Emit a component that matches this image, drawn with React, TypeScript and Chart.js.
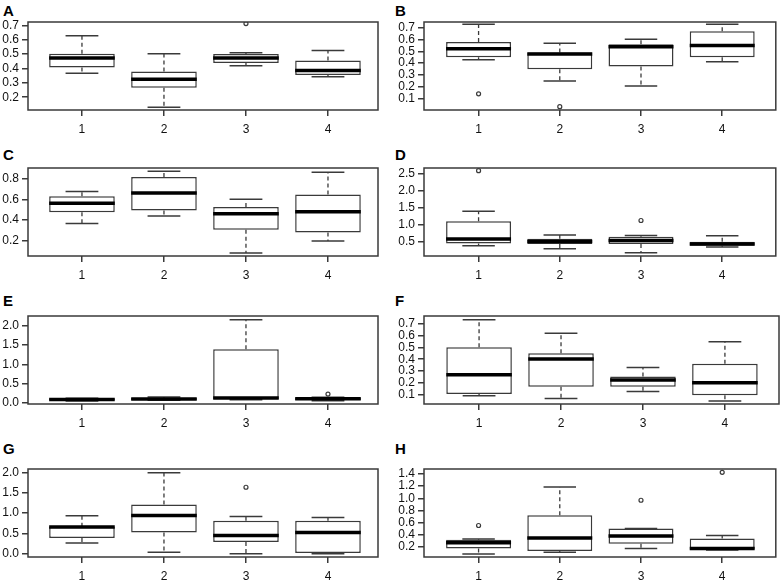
import React, { useEffect, useRef } from 'react';
import { Chart, registerables } from 'chart.js';

Chart.register(...registerables);

// ---------- data ----------
const groups = [1, 2, 3, 4];
const groupLabels = ['1', '2', '3', '4'];

// each group: [lower whisker, Q1, median, Q3, upper whisker]
const boxA = [
  [0.367, 0.407, 0.472, 0.503, 0.627],
  [0.130, 0.266, 0.324, 0.378, 0.503],
  [0.418, 0.437, 0.472, 0.500, 0.510],
  [0.343, 0.355, 0.385, 0.456, 0.524],
];
const outA = [[], [], [0.712], []];
const ticksA = [0.2, 0.3, 0.4, 0.5, 0.6, 0.7];
const rangeA = [0.111, 0.723];

const boxB = [
  [0.429, 0.451, 0.523, 0.580, 0.729],
  [0.249, 0.349, 0.477, 0.491, 0.569],
  [0.206, 0.371, 0.540, 0.560, 0.603],
  [0.411, 0.451, 0.549, 0.671, 0.729],
];
const outB = [[0.14], [0.031], [], []];
const ticksB = [0.1, 0.2, 0.3, 0.4, 0.5, 0.6, 0.7];
const rangeB = [0.003, 0.749];

const boxC = [
  [0.367, 0.476, 0.563, 0.630, 0.675],
  [0.438, 0.492, 0.662, 0.816, 0.871],
  [0.081, 0.306, 0.460, 0.527, 0.601],
  [0.197, 0.280, 0.479, 0.646, 0.861],
];
const outC = [[], [], [], []];
const ticksC = [0.2, 0.4, 0.6, 0.8];
const rangeC = [0.052, 0.903];

const boxD = [
  [0.383, 0.451, 0.578, 1.10, 1.393],
  [0.296, 0.432, 0.510, 0.587, 0.694],
  [0.180, 0.432, 0.539, 0.646, 0.684],
  [0.345, 0.383, 0.432, 0.500, 0.675],
];
const outD = [[2.578], [], [1.121], []];
const ticksD = [0.5, 1.0, 1.5, 2.0, 2.5];
const rangeD = [0.083, 2.655];

const boxE = [
  [0.043, 0.060, 0.085, 0.110, 0.113],
  [0.060, 0.070, 0.095, 0.120, 0.147],
  [0.078, 0.095, 0.121, 1.394, 2.165],
  [0.050, 0.070, 0.100, 0.125, 0.139],
];
const outE = [[], [], [], [0.225]];
const ticksE = [0.0, 0.5, 1.0, 1.5, 2.0];
const rangeE = [-0.035, 2.26];

const boxF = [
  [0.089, 0.103, 0.267, 0.502, 0.737],
  [0.066, 0.165, 0.403, 0.451, 0.621],
  [0.125, 0.165, 0.222, 0.253, 0.329],
  [0.043, 0.092, 0.199, 0.361, 0.550],
];
const outF = [[], [], [], []];
const ticksF = [0.1, 0.2, 0.3, 0.4, 0.5, 0.6, 0.7];
const rangeF = [0.018, 0.769];

const boxG = [
  [0.262, 0.385, 0.656, 0.664, 0.934],
  [0.033, 0.525, 0.943, 1.213, 2.0],
  [0.0, 0.287, 0.451, 0.811, 0.918],
  [0.0, 0.016, 0.525, 0.811, 0.893],
];
const outG = [[], [], [1.639], []];
const ticksG = [0.0, 0.5, 1.0, 1.5, 2.0];
const rangeG = [-0.082, 2.09];

const boxH = [
  [0.086, 0.178, 0.271, 0.320, 0.331],
  [0.113, 0.135, 0.347, 0.723, 1.186],
  [0.178, 0.255, 0.380, 0.505, 0.505],
  [0.151, 0.162, 0.178, 0.342, 0.391],
];
const outH = [[0.554], [], [0.968], [1.426]];
const ticksH = [0.2, 0.4, 0.6, 0.8, 1.0, 1.2, 1.4];
const rangeH = [0.037, 1.481];

// ---------- layout / style ----------
const FONT = "'Liberation Sans', Arial, Helvetica, sans-serif";
const PAD_TOP = 12;
const PLOT_H = 88;
const XAXIS_H = 30;
const BOX_HALF = 0.4;
const STAPLE_HALF = 0.2;
const LINE = '#3a3a3a';
const TEXT = '#111';

const COLS = [
  { left: 0, width: 390, axisW: 28, padRight: 12, xMin: 0.342, xMax: 4.61, letterX: 3 },
  { left: 390, width: 391, axisW: 34, padRight: 2, xMin: 0.328, xMax: 4.66, letterX: 395 },
];
const ROWS = [
  { plotTop: 22, letterTop: 3 },
  { plotTop: 168, letterTop: 147 },
  { plotTop: 316, letterTop: 293 },
  { plotTop: 469, letterTop: 441 },
];

type PanelDef = {
  letter: string;
  box: number[][];
  out: number[][];
  ticks: number[];
  range: number[];
  col: number;
  row: number;
};

const panels: PanelDef[] = [
  { letter: 'A', box: boxA, out: outA, ticks: ticksA, range: rangeA, col: 0, row: 0 },
  { letter: 'B', box: boxB, out: outB, ticks: ticksB, range: rangeB, col: 1, row: 0 },
  { letter: 'C', box: boxC, out: outC, ticks: ticksC, range: rangeC, col: 0, row: 1 },
  { letter: 'D', box: boxD, out: outD, ticks: ticksD, range: rangeD, col: 1, row: 1 },
  { letter: 'E', box: boxE, out: outE, ticks: ticksE, range: rangeE, col: 0, row: 2 },
  { letter: 'F', box: boxF, out: outF, ticks: ticksF, range: rangeF, col: 1, row: 2 },
  { letter: 'G', box: boxG, out: outG, ticks: ticksG, range: rangeG, col: 0, row: 3 },
  { letter: 'H', box: boxH, out: outH, ticks: ticksH, range: rangeH, col: 1, row: 3 },
];

const framePlugin = {
  id: 'frame',
  afterDatasetsDraw(chart: any) {
    const { ctx, chartArea } = chart;
    ctx.save();
    ctx.strokeStyle = LINE;
    ctx.lineWidth = 1.5;
    ctx.strokeRect(
      chartArea.left,
      chartArea.top,
      chartArea.right - chartArea.left,
      chartArea.bottom - chartArea.top
    );
    ctx.restore();
  },
};

function BoxPanel({ p }: { p: PanelDef }) {
  const ref = useRef<HTMLCanvasElement | null>(null);
  const col = COLS[p.col];
  const row = ROWS[p.row];
  const h = PAD_TOP + PLOT_H + XAXIS_H;

  useEffect(() => {
    if (!ref.current) return;
    const bars = groups.map((g, i) => ({ x: g, y: [p.box[i][1], p.box[i][3]] }));
    const whiskers: any[] = [];
    const caps: any[] = [];
    const medians: any[] = [];
    groups.forEach((g, i) => {
      const [lo, q1, med, q3, hi] = p.box[i];
      whiskers.push({ x: g, y: q3 }, { x: g, y: hi }, { x: g, y: null });
      whiskers.push({ x: g, y: q1 }, { x: g, y: lo }, { x: g, y: null });
      caps.push({ x: g - STAPLE_HALF, y: hi }, { x: g + STAPLE_HALF, y: hi }, { x: g, y: null });
      caps.push({ x: g - STAPLE_HALF, y: lo }, { x: g + STAPLE_HALF, y: lo }, { x: g, y: null });
      medians.push({ x: g - BOX_HALF, y: med }, { x: g + BOX_HALF, y: med }, { x: g, y: null });
    });
    const outliers = groups.flatMap((g, i) => p.out[i].map((v) => ({ x: g, y: v })));

    const lineBase = {
      type: 'line' as const,
      pointRadius: 0,
      fill: false,
      spanGaps: false,
      tension: 0,
    };

    const chart = new Chart(ref.current, {
      type: 'bar',
      data: {
        datasets: [
          { ...lineBase, data: medians, borderColor: '#000', borderWidth: 3.5, order: 0 } as any,
          {
            type: 'scatter',
            data: outliers,
            pointRadius: 2,
            pointBorderWidth: 1.2,
            pointBorderColor: LINE,
            pointBackgroundColor: 'rgba(0,0,0,0)',
            showLine: false,
            order: 1,
          } as any,
          { ...lineBase, data: caps, borderColor: LINE, borderWidth: 1.5, order: 2 } as any,
          {
            type: 'bar',
            data: bars,
            backgroundColor: '#fff',
            borderColor: LINE,
            borderWidth: 1.5,
            borderSkipped: false,
            categoryPercentage: 1,
            barPercentage: 0.8,
            order: 3,
          } as any,
          { ...lineBase, data: whiskers, borderColor: LINE, borderWidth: 1.3, borderDash: [4, 3], order: 4 } as any,
        ],
      },
      options: {
        responsive: false,
        animation: false,
        events: [],
        devicePixelRatio: 1,
        layout: { padding: { top: PAD_TOP, right: col.padRight, left: 0, bottom: 0 } },
        plugins: { legend: { display: false }, tooltip: { enabled: false }, title: { display: false } },
        scales: {
          x: {
            type: 'linear',
            min: col.xMin,
            max: col.xMax,
            offset: false,
            grid: { display: true, drawOnChartArea: false, drawTicks: true, tickLength: 6, offset: false, color: LINE, lineWidth: 1.5 },
            border: { display: false },
            ticks: {
              autoSkip: false,
              padding: 6,
              color: TEXT,
              font: { family: FONT, size: 12 },
              callback: (v: any) => {
                const idx = groups.indexOf(Number(v));
                return idx >= 0 ? groupLabels[idx] : '';
              },
            },
            afterBuildTicks: (s: any) => {
              s.ticks = groups.map((v) => ({ value: v }));
            },
            afterFit: (s: any) => {
              s.height = XAXIS_H;
            },
          },
          y: {
            type: 'linear',
            min: p.range[0],
            max: p.range[1],
            grid: { display: true, drawOnChartArea: false, drawTicks: true, tickLength: 6, color: LINE, lineWidth: 1.5 },
            border: { display: false },
            ticks: {
              autoSkip: false,
              padding: 3,
              color: TEXT,
              font: { family: FONT, size: 12 },
              callback: (v: any) => Number(v).toFixed(1),
            },
            afterBuildTicks: (s: any) => {
              s.ticks = p.ticks.map((v) => ({ value: v }));
            },
            afterFit: (s: any) => {
              s.width = col.axisW;
            },
          },
        },
      } as any,
      plugins: [framePlugin],
    });
    return () => chart.destroy();
  }, []);

  return (
    <>
      <div
        style={{
          position: 'absolute',
          left: col.letterX,
          top: row.letterTop,
          fontFamily: FONT,
          fontWeight: 'bold',
          fontSize: 15,
          lineHeight: '15px',
          color: '#000',
        }}
      >
        {p.letter}
      </div>
      <canvas
        ref={ref}
        width={col.width}
        height={h}
        style={{
          position: 'absolute',
          left: col.left,
          top: row.plotTop - PAD_TOP,
          width: col.width,
          height: h,
        }}
      />
    </>
  );
}

export default function App() {
  return (
    <div
      style={{
        position: 'fixed',
        left: 0,
        top: 0,
        width: 781,
        height: 582,
        overflow: 'hidden',
        background: '#fff',
      }}
    >
      {panels.map((p) => (
        <BoxPanel key={p.letter} p={p} />
      ))}
    </div>
  );
}
